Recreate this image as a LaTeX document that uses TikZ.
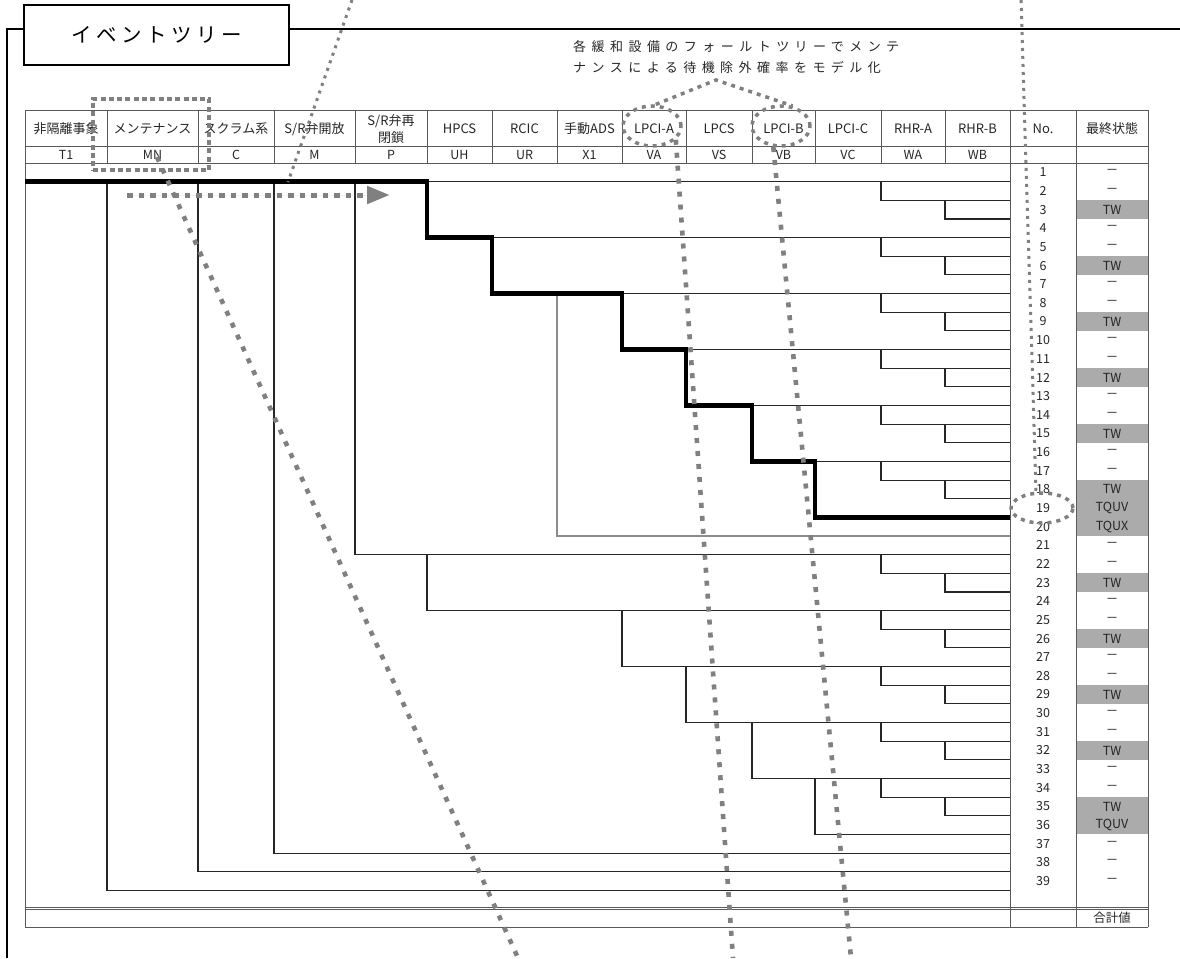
\documentclass[tikz,border=0pt]{standalone}
\usepackage{fontspec}
\setmainfont{Noto Sans CJK JP}
\newfontfamily\titlefont[LetterSpace=22]{Noto Sans CJK JP}
\newfontfamily\notefont[LetterSpace=42]{Noto Sans CJK JP}
\usepackage{tikz}
\usetikzlibrary{arrows.meta}
\usetikzlibrary{shapes.geometric}
\tikzset{
    headtxt/.style={
        font=\fontsize{13}{17}\selectfont,
        text=black!85, align=center, inner sep=0pt
    },
    codetxt/.style={
        font=\fontsize{12.5}{15}\selectfont,
        text=black!85, inner sep=0pt
    },
    celltxt/.style={
        font=\fontsize{12.5}{14}\selectfont,
        text=black!85, inner sep=0pt
    },
    gridline/.style={draw=black!65, line width=1pt},
    treeline/.style={draw=black!85, line width=1.1pt},
    keypath/.style={draw=black, line width=4.5pt},
    endfill/.style={fill=black!33},
    markbig/.style={draw=black!50, line width=4.6pt, dash pattern=on 5pt off 8pt},
    markmid/.style={draw=black!50, line width=3.5pt, dash pattern=on 4pt off 5pt},
    marksmall/.style={draw=black!50, line width=3pt, dash pattern=on 3pt off 5pt},
    markbox/.style={draw=black!50, line width=3.3pt, dash pattern=on 5pt off 3.3pt},
    markoval/.style={ellipse, markmid, inner sep=0pt}
}

\begin{document}
\begin{tikzpicture}[x=1pt, y=-1pt]
\useasboundingbox (0,0) rectangle (1180,958);

% 行と列
\foreach \k in {0,...,39}
    \coordinate (L\k) at (0,{163+18.65*\k});
\foreach \x [count=\i from 0] in {25,107,198,274,355,427,492,557,622,686,752,815,881,945,1010,1076,1148}
    \coordinate (X\i) at (\x,0);

% 網掛け
\foreach \a/\b in {2/3,5/6,8/9,11/12,14/15,17/20,22/23,25/26,28/29,31/32,34/36}
    \fill[endfill] (X15 |- L\a) rectangle (X16 |- L\b);

% 罫線
\draw[gridline] (25,110) -- (1148,110) (25,146) -- (1148,146)
    (25,163) -- (1148,163) (25,927) -- (1148,927);
\draw[gridline, line width=0.9pt, double, double distance=1.3pt] (25,908.5) -- (1148,908.5);
\foreach \i in {1,...,13}
    \draw[gridline] (X\i) ++(0,110) -- ++(0,53);
\foreach \i in {0,14,15,16}
    \draw[gridline] (X\i) ++(0,110) -- ++(0,817);

% 見出し
\foreach \a/\b/\hd/\cd [count=\i] in {
    25/107/非隔離事象/T1, 107/198/メンテナンス/MN, 198/274/スクラム系/C,
    274/355/{S/R弁開放}/M, 355/427/{S/R弁再\\閉鎖}/P, 427/492/HPCS/UH,
    492/557/RCIC/UR, 557/622/手動ADS/X1, 622/686/LPCI-A/VA, 686/752/LPCS/VS,
    752/815/LPCI-B/VB, 815/881/LPCI-C/VC, 881/945/RHR-A/WA, 945/1010/RHR-B/WB,
    1010/1076/No./{}, 1076/1148/最終状態/{}}
{
    \node[headtxt] (h\i) at ({(\a+\b)/2},129) {\hd};
    \node[codetxt] (c\i) at ({(\a+\b)/2},155) {\cd};
}

% 分岐
\draw[treeline] (X0 |- L1) -- (X14 |- L1);
\foreach \c/\a/\b in {12/1/2, 13/2/3, 5/1/4, 12/4/5, 13/5/6, 6/4/7, 12/7/8, 13/8/9,
    8/7/10, 12/10/11, 13/11/12, 9/10/13, 12/13/14, 13/14/15, 10/13/16, 12/16/17,
    13/17/18, 11/16/19, 4/1/21, 12/21/22, 13/22/23, 5/21/24, 12/24/25, 13/25/26,
    8/24/27, 12/27/28, 13/28/29, 9/27/30, 12/30/31, 13/31/32, 10/30/33, 12/33/34,
    13/34/35, 11/33/36, 3/1/37, 2/1/38, 1/1/39}
    \draw[treeline] (X\c |- L\a) |- (X14 |- L\b);
\draw[treeline, draw=black!45] (X7 |- L7) |- (X14 |- L20);
\draw[keypath] (X0 |- L1) -| (X5 |- L4) -| (X6 |- L7) -| (X8 |- L10)
    -| (X9 |- L13) -| (X10 |- L16) -| (X11 |- L19) -- (X14 |- L19);

% 番号と最終状態
\foreach \k in {1,...,39}
    \node[celltxt] (n\k) at (1043,{163+18.65*(\k-0.5)}) {\k};
\foreach \k/\s in {1/－,2/－,3/TW,4/－,5/－,6/TW,7/－,8/－,9/TW,10/－,11/－,12/TW,
    13/－,14/－,15/TW,16/－,17/－,18/TW,19/TQUV,20/TQUX,21/－,22/－,23/TW,24/－,
    25/－,26/TW,27/－,28/－,29/TW,30/－,31/－,32/TW,33/－,34/－,35/TW,36/TQUV,
    37/－,38/－,39/－}
    \node[celltxt] (s\k) at (1112,{163+18.65*(\k-0.5)}) {\s};
\node[celltxt] (total) at (1112,918) {合計値};

% 枠と表題
\node[draw, line width=1.3pt, fill=white, minimum width=265pt, minimum height=60pt,
    inner sep=0pt, font=\titlefont\fontsize{20.5}{24}\selectfont] (title) at (156.5,35) {イベントツリー};
\coordinate (fTL) at (7,29);
\coordinate (fBL) at (7,958);
\coordinate (fTR) at (1180,29);
\draw[line width=1.2pt] (title.west |- fTL) -- (fTL) -- (fBL);
\draw[line width=1.2pt] (title.east |- fTR) -- (fTR);

\node[anchor=west, inner sep=0pt, text=black!85, font=\notefont\fontsize{13}{16}\selectfont]
    (note1) at (573,47) {各緩和設備のフォールトツリーでメンテ};
\node[anchor=west, inner sep=0pt, text=black!85, font=\notefont\fontsize{13}{16}\selectfont]
    (note2) at (573,68) {ナンスによる待機除外確率をモデル化};

% 点線の注記
\node[markbox, minimum width=116pt, minimum height=71pt, inner sep=0pt] (mnbox) at (151,134.5) {};
\node[markoval, minimum width=58pt, minimum height=40pt] (ovA) at (652,126) {};
\node[markoval, minimum width=58pt, minimum height=40pt] (ovB) at (781,126) {};
\node[markoval, minimum width=62pt, minimum height=30pt] (ov19) at (1042,508) {};

\coordinate (apex) at (716,80);
\coordinate (vaEnd) at (733,958);
\coordinate (vbEnd) at (851,958);
\coordinate (mnS) at (157,157);
\coordinate (mnE) at (518,958);
\coordinate (srS) at (352,0);
\coordinate (srE) at (288,182);
\coordinate (noS) at (1021,0);
\coordinate (arS) at (127,195);
\coordinate (arE) at (390,195);

\draw[markmid] (ovA.80) -- (apex) -- (ovB.60);
\draw[markbig] (ovA.-30) -- (vaEnd);
\draw[markbig] (ovB.-110) -- (vbEnd);
\draw[markbig] (mnS) -- (mnE);
\draw[marksmall] (srS) -- (srE);
\draw[marksmall] (noS) -- (ov19.110);
\draw[draw=black!50, fill=black!50, line width=5pt, dash pattern=on 5.5pt off 6pt,
    -{Triangle[length=23pt, width=17pt]}] (arS) -- (arE);
\end{tikzpicture}
\end{document}
